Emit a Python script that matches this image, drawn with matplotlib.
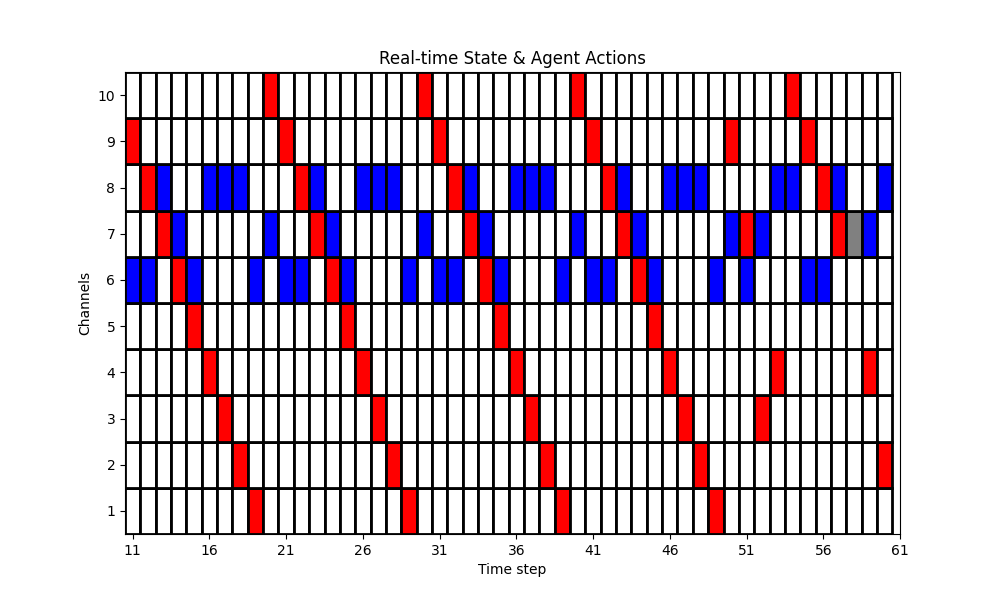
import numpy as np
import matplotlib
matplotlib.use("Agg")
import matplotlib.pyplot as plt

# time steps and channels shown on the grid
time_steps = list(range(11, 61))
channels = list(range(1, 11))

# red cells (agent action) per channel: time steps
red_cells = {
    10: [20, 30, 40, 54],
    9: [11, 21, 31, 41, 50, 55],
    8: [12, 22, 32, 42, 56],
    7: [13, 23, 33, 43, 51, 57],
    6: [14, 24, 34, 44],
    5: [15, 25, 35, 45],
    4: [16, 26, 36, 46, 53, 59],
    3: [17, 27, 37, 47, 52],
    2: [18, 28, 38, 48, 60],
    1: [19, 29, 39, 49],
}

# blue cells (occupied state) per channel
blue_cells = {
    8: [13, 16, 17, 18, 23, 26, 27, 28, 33, 36, 37, 38, 43, 46, 47, 48, 53, 54, 57, 60],
    7: [14, 20, 24, 30, 34, 40, 44, 50, 52, 59],
    6: [11, 12, 15, 19, 21, 22, 25, 29, 31, 32, 35, 39, 41, 42, 45, 49, 51, 55, 56],
}

# gray cells (collision)
gray_cells = {
    7: [58],
}

x_ticks = list(range(11, 62, 5))


def cell_color(ch, t):
    if t in gray_cells.get(ch, []):
        return "gray"
    if t in red_cells.get(ch, []):
        return "red"
    if t in blue_cells.get(ch, []):
        return "blue"
    return "white"


fig, ax = plt.subplots(figsize=(10, 6), dpi=100)

for ch in channels:
    colors = [cell_color(ch, t) for t in time_steps]
    ax.bar(time_steps, 1, bottom=ch - 0.5, width=1, color=colors,
           edgecolor="black", linewidth=2)

ax.set_xlim(10.5, 61)
ax.set_ylim(0.5, 10.5)
ax.set_xticks(x_ticks)
ax.set_yticks(channels)
ax.set_xlabel("Time step")
ax.set_ylabel("Channels")
ax.set_title("Real-time State & Agent Actions")

fig.savefig("out.png")
